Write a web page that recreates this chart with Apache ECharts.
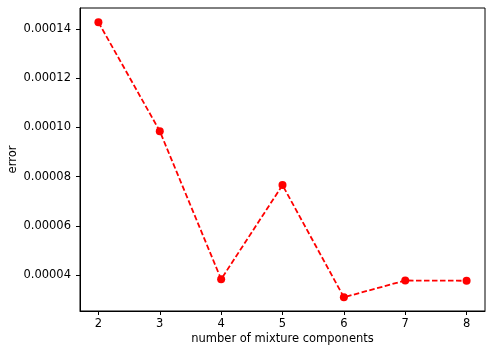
<!DOCTYPE html>
<html>
<head>
<meta charset="utf-8">
<script src="https://cdn.jsdelivr.net/npm/echarts@6/dist/echarts.min.js"></script>
<style>
    html, body { margin: 0; padding: 0; background: #fff; }
    #chart { width: 493px; height: 354px; }
</style>
</head>
<body>
<div id="chart"></div>
<script>
var components = [2, 3, 4, 5, 6, 7, 8];
var errors = [0.0001427, 0.0000985, 0.0000384, 0.0000766, 0.0000311, 0.0000379, 0.0000378];
var xTicks = [2, 3, 4, 5, 6, 7, 8];
var yTicks = [0.00004, 0.00006, 0.00008, 0.00010, 0.00012, 0.00014];

function errorChart() {
    var myChart = echarts.init(document.getElementById('chart'));
    var points = components.map(function (c, i) { return [c, errors[i]]; });
    var font = 'DejaVu Sans';
    var option = {
        animation: false,
        grid: {
            left: 80,
            right: 8,
            top: 8,
            bottom: 43,
            containLabel: false,
            outerBoundsMode: 'none',
            show: true,
            borderColor: '#000',
            borderWidth: 1
        },
        xAxis: {
            type: 'value',
            min: 1.7,
            max: 8.3,
            name: 'number of mixture components',
            nameLocation: 'middle',
            nameGap: 22,
            nameMoveOverlap: false,
            nameTextStyle: { fontFamily: font, fontSize: 11.5, color: '#000' },
            splitLine: { show: false },
            axisLine: { lineStyle: { color: '#000', width: 1 } },
            axisTick: {
                show: true,
                length: 4,
                customValues: xTicks,
                lineStyle: { color: '#000' }
            },
            axisLabel: {
                customValues: xTicks,
                margin: 7,
                fontFamily: font,
                fontSize: 11.5,
                color: '#000'
            }
        },
        yAxis: {
            type: 'value',
            min: 0.00002553,
            max: 0.00014846,
            name: 'error',
            nameLocation: 'middle',
            nameGap: 61,
            nameMoveOverlap: false,
            nameTextStyle: { fontFamily: font, fontSize: 11.5, color: '#000' },
            splitLine: { show: false },
            axisLine: { show: true, lineStyle: { color: '#000', width: 1 } },
            axisTick: {
                show: true,
                length: 4,
                customValues: yTicks,
                lineStyle: { color: '#000' }
            },
            axisLabel: {
                customValues: yTicks,
                margin: 9,
                fontFamily: font,
                fontSize: 11.5,
                color: '#000',
                formatter: function (v) { return v.toFixed(5); }
            }
        },
        series: [{
            type: 'line',
            data: points,
            symbol: 'circle',
            symbolSize: 8,
            itemStyle: { color: '#ff0000' },
            lineStyle: { color: '#ff0000', width: 1.8, type: [5.5, 2.5] }
        }]
    };
    myChart.setOption(option);
}
errorChart();
</script>
</body>
</html>
